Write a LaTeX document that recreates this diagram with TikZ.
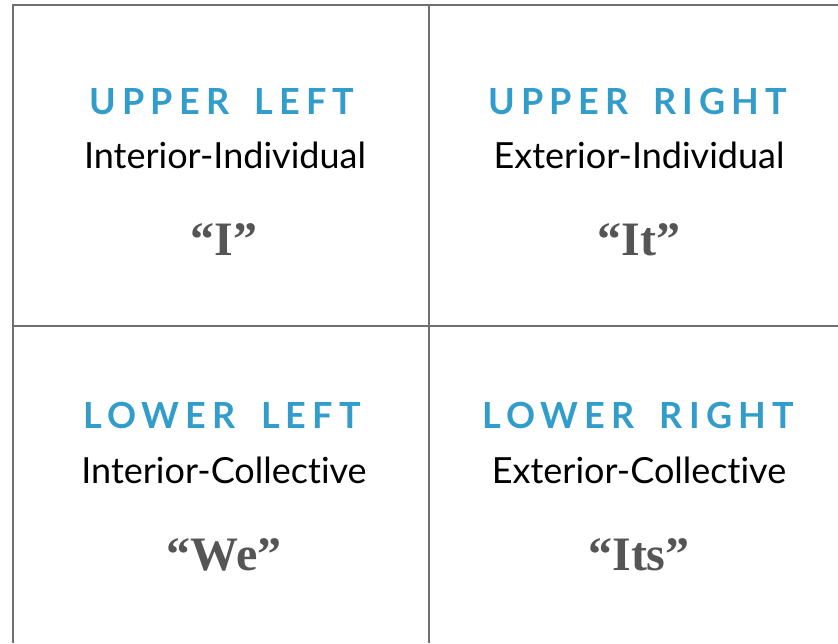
\documentclass[tikz,border=0pt]{standalone}
\usepackage{fontspec}
\usepackage{tikz}
\usetikzlibrary{positioning}
\setmainfont{Liberation Serif}
\newfontfamily\headfont[LetterSpace=17, WordSpace=1.7]{Lato Bold}
\newfontfamily\subfont[Ligatures=NoCommon]{Lato}
\definecolor{quadblue}{RGB}{50,157,203}
\definecolor{quotegray}{RGB}{85,85,85}
\definecolor{linegray}{RGB}{112,112,112}

\begin{document}
\begin{tikzpicture}[x=1pt, y=1pt,
  head/.style={anchor=base, inner sep=0pt, text=quadblue, font=\headfont\fontsize{36}{40}\selectfont},
  sub/.style={anchor=base, inner sep=0pt, text=black, font=\subfont\fontsize{36}{40}\selectfont},
  quote/.style={anchor=base, inner sep=0pt, text=quotegray, font=\bfseries\fontsize{48}{52}\selectfont}]
  \useasboundingbox (0,0) rectangle (838,643);

  % Grid
  \draw[linegray, line width=2pt] (12.5,0) -- (12.5,637.5) -- (838,637.5);
  \draw[linegray, line width=2pt] (429,0) -- (429,637.5);
  \draw[linegray, line width=2pt] (12.5,317) -- (838,317);

  % Upper left
  \node[head] (ulhead) at (222,528) {UPPER LEFT};
  \node[sub] (ulsub) at (225,474) {Interior-Individual};
  \node[quote] (ulquote) at (224,387) {“I”};

  % Upper right
  \node[head] (urhead) at (638,528) {UPPER RIGHT};
  \node[sub] (ursub) at (639,474) {Exterior-Individual};
  \node[quote] (urquote) at (639,387) {“It”};

  % Lower left
  \node[head] (llhead) at (222,214) {LOWER LEFT};
  \node[sub] (llsub) at (224,160) {Interior-Collective};
  \node[quote] (llquote) at (224,73) {“We”};

  % Lower right
  \node[head] (lrhead) at (638,214) {LOWER RIGHT};
  \node[sub] (lrsub) at (639,160) {Exterior-Collective};
  \node[quote] (lrquote) at (639,73) {“Its”};
\end{tikzpicture}
\end{document}
